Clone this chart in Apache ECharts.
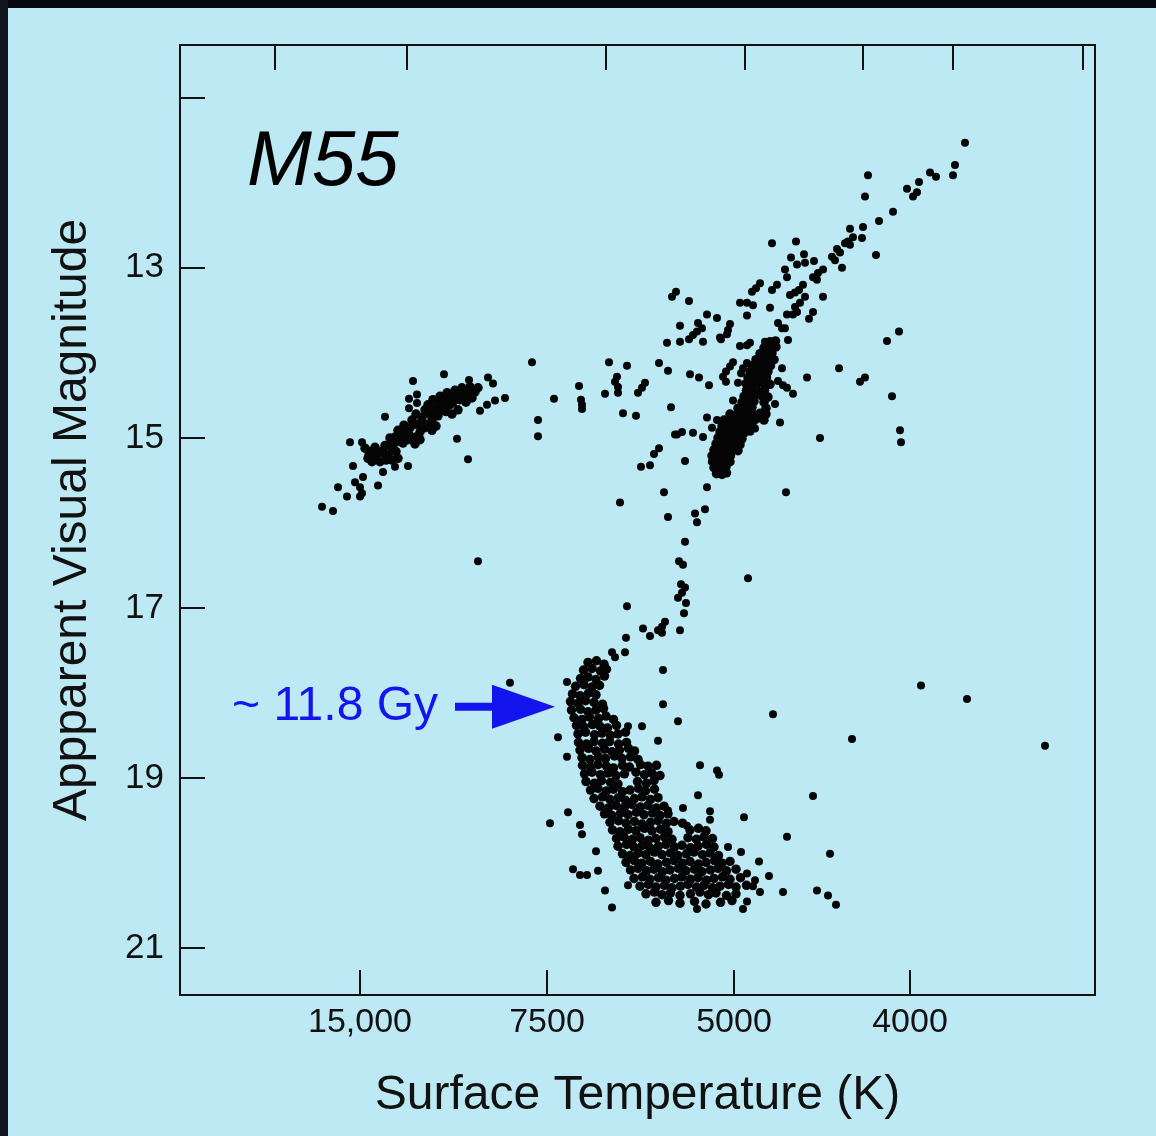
<!DOCTYPE html>
<html>
<head>
<meta charset="utf-8">
<script src="https://cdn.jsdelivr.net/npm/echarts@6/dist/echarts.min.js"></script>
<style>
html,body{margin:0;padding:0;background:#070a12;}
#chart{width:1156px;height:1136px;}
</style>
</head>
<body>
<div id="chart"></div>
<script>
// ---------- DATA (x = colour-index position on the temperature scale, y = apparent visual magnitude) ----------
const tempTickValues = [-0.1, 0.274, 0.648, 1.0];
const tempTickLabels = ['15,000', '7500', '5000', '4000'];
const topTickValues = [-0.27, -0.006, 0.392, 0.67, 0.906, 1.086, 1.346];
const magTickValues = [11, 13, 15, 17, 19, 21];
const magLabelValues = [13, 15, 17, 19, 21];

// horizontal branch, scattered members
const hbStars = [[0.068,14.25],[0.006,14.33],[0.118,14.32],[0.156,14.29],[0.166,14.36],[0.014,14.49],[-0.002,14.54],[0.014,14.59],[-0.002,14.65],[0.190,14.53],[0.170,14.56],[0.154,14.61],[0.140,14.68],[-0.050,14.75],[0.094,15.01],[0.116,15.25],[-0.120,15.05],[-0.096,15.05],[-0.114,15.33],[-0.094,15.46],[-0.054,15.40],[-0.030,15.34],[-0.004,15.33],[-0.110,15.52],[-0.100,15.58],[-0.096,15.65],[-0.100,15.69],[-0.144,15.58],[-0.126,15.69],[-0.064,15.56],[-0.176,15.81],[-0.154,15.86]];
// horizontal branch, dense core
const hbCore = [[-0.090,15.12],[-0.080,15.16],[-0.070,15.11],[-0.084,15.24],[-0.070,15.22],[-0.060,15.16],[-0.050,15.09],[-0.076,15.28],[-0.060,15.28],[-0.044,15.20],[-0.036,15.12],[-0.028,15.05],[-0.020,14.98],[-0.040,15.00],[-0.024,14.91],[-0.010,14.93],[-0.012,14.85],[0.000,14.88],[0.004,14.79],[0.016,14.84],[0.012,14.72],[0.024,14.76],[0.030,14.67],[0.040,14.72],[0.036,14.61],[0.050,14.65],[0.046,14.55],[0.060,14.60],[0.060,14.51],[0.072,14.55],[0.074,14.47],[0.084,14.52],[0.090,14.44],[0.100,14.48],[0.104,14.41],[0.116,14.46],[0.120,14.40],[0.130,14.46],[0.136,14.41],[0.124,14.53],[-0.028,15.16],[-0.024,15.24],[-0.048,15.26],[-0.004,15.02],[0.010,15.07],[0.020,15.02],[0.030,14.88],[0.044,14.79],[0.056,14.74],[0.072,14.69],[0.084,14.72],[0.096,14.67],[0.080,14.61],[0.066,14.67],[0.100,14.55],[0.112,14.58],[0.020,14.93],[0.036,14.84],[0.052,14.86],
[-0.082,15.20],[-0.066,15.19],[-0.052,15.18],[-0.040,15.08],[-0.030,14.99],[-0.016,14.96],[-0.002,14.96],[0.008,14.84],[0.022,14.83],[0.040,14.66],[0.054,14.70],[0.066,14.59],[0.086,14.58],[0.094,14.50],[0.110,14.50],[0.126,14.44],[0.012,14.99],[-0.014,15.06],[0.044,14.91],[-0.036,15.26]];
// stars between the horizontal branch and the giant branch
const gapStars = [[0.244,14.11],[0.288,14.54],[0.256,14.79],[0.256,14.98],[0.338,14.39],[0.342,14.55],[0.344,14.61],[0.344,14.66],[0.398,14.11],[0.434,14.15],[0.414,14.28],[0.410,14.34],[0.416,14.40],[0.416,14.47],[0.390,14.48],[0.470,14.35],[0.464,14.41],[0.456,14.47],[0.426,14.71],[0.452,14.74],[0.498,14.12],[0.516,14.21],[0.522,14.64],[0.534,14.96],[0.498,15.12],[0.488,15.19],[0.462,15.34],[0.480,15.32],[0.420,15.76],[0.136,16.45],[0.200,17.88]];
// upper giant branch and asymptotic giant branch
const upperGiants = [[1.110,11.53],[1.090,11.79],[1.086,11.91],[1.040,11.88],[1.052,11.93],[1.018,11.99],[1.014,12.11],[1.006,12.16],[0.994,12.07],[0.916,11.91],[0.910,12.16],[0.966,12.34],[0.938,12.45],[0.880,12.54],[0.906,12.52],[0.904,12.65],[0.886,12.64],[0.876,12.69],[0.870,12.71],[0.880,12.73],[0.854,12.78],[0.860,12.82],[0.844,12.87],[0.850,12.91],[0.932,12.85],[0.864,13.00],[0.826,13.02],[0.816,13.06],[0.806,13.11],[0.814,13.14],[0.724,12.71],[0.772,12.69],[0.762,12.88],[0.788,12.84],[0.790,12.94],[0.808,12.92],[0.774,12.96],[0.750,13.02],[0.754,13.11],[0.734,13.20],[0.724,13.26],[0.700,13.18],[0.692,13.24],[0.684,13.28],[0.786,13.20],[0.778,13.26],[0.770,13.29],[0.760,13.32],[0.826,13.34],[0.790,13.34],[0.780,13.41],[0.770,13.46],[0.774,13.52],[0.766,13.55],[0.720,13.47],[0.754,13.55],[0.806,13.52],[0.798,13.60],[0.660,13.41],[0.674,13.41],[0.686,13.44],[0.674,13.56],[0.532,13.28],[0.524,13.34],[0.558,13.39],[0.594,13.55],[0.614,13.59],[0.540,13.68],[0.576,13.65],[0.584,13.71],[0.574,13.75],[0.566,13.79],[0.558,13.84],[0.640,13.66],[0.636,13.73],[0.634,13.78],[0.736,13.65],[0.744,13.71],[0.750,13.71],[0.514,13.88],[0.540,13.87],[0.586,13.87],[0.622,13.84],[0.660,13.92],[0.674,13.91],[0.680,13.88],[0.710,13.87],[0.726,13.87],[0.714,13.93],[0.756,13.85],[0.978,13.75],[0.954,13.86]];
// scattered stars around the middle giant branch
const midGiants = [[0.620,13.82],[0.560,14.25],[0.578,14.29],[0.598,14.38],[0.646,14.11],[0.640,14.16],[0.632,14.22],[0.626,14.28],[0.632,14.34],[0.674,14.12],[0.666,14.18],[0.662,14.24],[0.656,14.35],[0.744,14.18],[0.736,14.33],[0.746,14.38],[0.754,14.41],[0.794,14.29],[0.766,14.48],[0.858,14.18],[0.900,14.34],[0.910,14.29],[0.964,14.51],[0.646,14.56],[0.730,14.60],[0.594,14.76],[0.614,14.79],[0.604,14.88],[0.740,14.82],[0.690,14.89],[0.530,14.96],[0.544,14.93],[0.566,14.94],[0.586,14.99],[0.820,15.00],[0.980,14.91],[0.982,15.05],[0.550,15.27],[0.594,15.58],[0.508,15.64],[0.752,15.64],[0.590,15.84],[0.570,15.89],[0.574,15.99],[0.516,15.93]];
// dense red giant branch
const rgbCore = [[0.720,13.87],[0.731,13.86],[0.708,13.94],[0.721,13.95],[0.732,13.93],[0.700,14.01],[0.713,14.02],[0.724,14.00],[0.692,14.08],[0.704,14.09],[0.717,14.07],[0.728,14.08],[0.684,14.15],[0.697,14.16],[0.708,14.14],[0.721,14.15],[0.680,14.22],[0.692,14.23],[0.705,14.21],[0.716,14.22],[0.676,14.29],[0.689,14.30],[0.700,14.28],[0.713,14.29],[0.672,14.36],[0.684,14.37],[0.697,14.35],[0.708,14.36],[0.720,14.37],[0.673,14.44],[0.684,14.43],[0.696,14.45],[0.709,14.44],[0.668,14.51],[0.681,14.52],[0.692,14.50],[0.705,14.51],[0.716,14.52],[0.664,14.58],[0.677,14.59],[0.688,14.57],[0.708,14.58],[0.656,14.65],[0.672,14.66],[0.684,14.64],[0.712,14.65],[0.640,14.72],[0.652,14.73],[0.665,14.71],[0.676,14.72],[0.689,14.73],[0.700,14.71],[0.712,14.72],[0.628,14.79],[0.641,14.80],[0.652,14.78],[0.665,14.79],[0.676,14.80],[0.692,14.78],[0.708,14.79],[0.624,14.86],[0.637,14.87],[0.648,14.85],[0.661,14.86],[0.672,14.87],[0.684,14.85],[0.620,14.93],[0.633,14.94],[0.644,14.92],[0.657,14.93],[0.668,14.94],[0.680,14.92],[0.616,15.00],[0.629,15.01],[0.640,14.99],[0.653,15.00],[0.664,15.01],[0.612,15.07],[0.625,15.08],[0.636,15.06],[0.649,15.07],[0.660,15.08],[0.608,15.14],[0.621,15.15],[0.632,15.13],[0.645,15.14],[0.656,15.15],[0.604,15.21],[0.617,15.22],[0.628,15.20],[0.641,15.21],[0.605,15.28],[0.616,15.29],[0.629,15.27],[0.640,15.28],[0.608,15.35],[0.621,15.36],[0.632,15.34],[0.613,15.42],[0.624,15.43],[0.633,15.41]];
// subgiant branch
const subgiants = [[0.550,16.22],[0.538,16.45],[0.546,16.49],[0.542,16.72],[0.550,16.76],[0.544,16.82],[0.536,16.88],[0.552,16.94],[0.548,17.06],[0.676,16.65],[0.434,16.98],[0.510,17.16],[0.504,17.22],[0.496,17.26],[0.504,17.29],[0.540,17.26],[0.466,17.24],[0.480,17.33],[0.432,17.35],[0.430,17.52],[0.506,17.73],[0.404,17.52],[0.410,17.58]];
// scattered stars around the turnoff and main sequence
const turnoffStars = [[0.506,18.13],[0.536,18.33],[0.436,18.39],[0.464,18.39],[0.496,18.56],[0.314,17.87],[0.296,18.52],[0.314,18.75],[0.316,19.40],[0.546,19.35],[0.280,19.53],[0.580,18.85],[0.614,18.91],[0.618,18.96],[0.576,19.20],[0.668,19.46],[0.754,19.69],[0.340,19.55],[0.344,19.66],[0.372,19.86],[0.326,20.07],[0.340,20.14],[0.354,20.14],[0.376,20.09],[0.390,20.32],[0.404,20.52],[0.436,20.26],[0.574,20.54],[0.662,19.87],[0.636,19.81],[0.698,19.98],[0.718,20.15],[0.700,20.34],[0.746,20.34],[0.600,19.39],[0.600,19.49],[0.554,19.56],[0.516,19.38]];
// field stars to the red side
const fieldStars = [[1.022,17.91],[1.114,18.07],[1.270,18.62],[0.726,18.25],[0.884,18.54],[0.806,19.21],[0.840,19.89],[0.674,20.12],[0.690,20.20],[0.686,20.27],[0.814,20.32],[0.836,20.38],[0.852,20.49],[0.674,20.45],[0.666,20.54]];
// dense turnoff and main sequence
const msCore = [
[0.356,17.64],[0.373,17.62],[0.388,17.66],
[0.347,17.73],[0.364,17.71],[0.381,17.74],[0.393,17.72],
[0.341,17.83],[0.356,17.81],[0.372,17.84],[0.389,17.80],
[0.331,17.92],[0.348,17.90],[0.364,17.93],[0.379,17.91],
[0.325,18.01],[0.340,18.03],[0.357,18.00],[0.372,18.02],
[0.321,18.10],[0.336,18.12],[0.351,18.09],[0.368,18.11],[0.385,18.13],
[0.323,18.20],[0.341,18.19],[0.356,18.22],[0.372,18.20],[0.387,18.18],
[0.328,18.29],[0.344,18.31],[0.359,18.28],[0.377,18.30],[0.392,18.27],[0.407,18.31],
[0.333,18.38],[0.348,18.40],[0.365,18.37],[0.380,18.39],[0.395,18.41],[0.413,18.38],
[0.336,18.48],[0.351,18.46],[0.369,18.49],[0.384,18.47],[0.401,18.50],[0.416,18.48],[0.431,18.46],
[0.337,18.58],[0.353,18.60],[0.368,18.57],[0.385,18.59],[0.399,18.57],[0.417,18.60],[0.433,18.58],
[0.340,18.67],[0.357,18.65],[0.372,18.68],[0.389,18.66],[0.404,18.69],[0.419,18.67],[0.437,18.65],[0.449,18.68],
[0.344,18.76],[0.360,18.78],[0.377,18.75],[0.391,18.77],[0.409,18.74],[0.424,18.77],[0.441,18.75],[0.456,18.78],
[0.345,18.85],[0.361,18.87],[0.376,18.84],[0.393,18.86],[0.407,18.88],[0.425,18.85],[0.439,18.87],[0.461,18.84],[0.476,18.86],[0.493,18.85],
[0.349,18.95],[0.364,18.93],[0.381,18.96],[0.396,18.94],[0.412,18.97],[0.429,18.95],[0.452,18.93],[0.469,18.96],[0.484,18.94],[0.500,18.97],
[0.352,19.04],[0.369,19.06],[0.383,19.03],[0.401,19.05],[0.416,19.07],[0.455,19.04],[0.473,19.06],[0.488,19.03],
[0.361,19.14],[0.376,19.12],[0.393,19.15],[0.407,19.13],[0.425,19.16],[0.440,19.14],[0.457,19.12],[0.471,19.15],[0.489,19.13],
[0.368,19.24],[0.385,19.22],[0.400,19.25],[0.417,19.23],[0.431,19.26],[0.449,19.24],[0.464,19.22],[0.481,19.25],[0.496,19.23],
[0.380,19.33],[0.397,19.35],[0.412,19.32],[0.429,19.34],[0.444,19.31],[0.461,19.34],[0.476,19.32],[0.493,19.35],[0.508,19.33],
[0.389,19.42],[0.404,19.44],[0.421,19.41],[0.436,19.43],[0.453,19.40],[0.468,19.43],[0.485,19.41],[0.500,19.44],[0.516,19.42],
[0.400,19.52],[0.417,19.50],[0.432,19.53],[0.449,19.51],[0.464,19.54],[0.481,19.52],[0.496,19.50],[0.513,19.53],[0.528,19.51],[0.545,19.53],
[0.405,19.61],[0.420,19.63],[0.437,19.60],[0.452,19.62],[0.469,19.59],[0.484,19.62],[0.501,19.60],[0.516,19.63],[0.560,19.61],[0.577,19.59],[0.592,19.62],
[0.413,19.71],[0.428,19.69],[0.445,19.72],[0.460,19.70],[0.477,19.73],[0.492,19.71],[0.509,19.69],[0.524,19.72],[0.556,19.70],[0.573,19.72],[0.588,19.69],[0.605,19.71],
[0.416,19.80],[0.433,19.78],[0.448,19.81],[0.465,19.79],[0.480,19.82],[0.497,19.80],[0.512,19.78],[0.529,19.81],[0.544,19.79],[0.561,19.82],[0.576,19.80],[0.593,19.78],[0.608,19.81],
[0.425,19.89],[0.440,19.91],[0.457,19.88],[0.472,19.90],[0.489,19.87],[0.504,19.90],[0.521,19.88],[0.536,19.91],[0.553,19.89],[0.568,19.87],[0.585,19.90],[0.600,19.88],[0.617,19.91],
[0.432,19.99],[0.449,19.97],[0.464,20.00],[0.481,19.98],[0.496,20.01],[0.513,19.99],[0.528,19.97],[0.545,20.00],[0.560,19.98],[0.577,20.01],[0.592,19.99],[0.609,19.97],[0.624,20.00],[0.640,19.98],
[0.441,20.08],[0.456,20.06],[0.473,20.09],[0.488,20.07],[0.505,20.10],[0.520,20.08],[0.537,20.06],[0.552,20.09],[0.569,20.07],[0.584,20.10],[0.601,20.08],[0.616,20.06],[0.633,20.09],[0.652,20.07],
[0.448,20.18],[0.465,20.16],[0.480,20.19],[0.497,20.17],[0.512,20.20],[0.529,20.18],[0.544,20.16],[0.561,20.19],[0.576,20.17],[0.593,20.20],[0.608,20.18],[0.625,20.16],[0.640,20.19],[0.661,20.17],
[0.460,20.27],[0.477,20.25],[0.492,20.28],[0.509,20.26],[0.524,20.29],[0.541,20.27],[0.556,20.25],[0.573,20.28],[0.588,20.26],[0.605,20.29],[0.620,20.27],[0.637,20.25],[0.652,20.28],[0.673,20.26],
[0.472,20.36],[0.489,20.34],[0.504,20.37],[0.521,20.35],[0.540,20.38],[0.561,20.36],[0.580,20.34],[0.597,20.37],[0.612,20.35],[0.633,20.38],[0.652,20.36],
[0.492,20.46],[0.517,20.44],[0.540,20.47],[0.569,20.45],[0.592,20.48],[0.621,20.46],[0.644,20.44]
];
const clusterName = 'M55';
const ageNote = '~ 11.8 Gy';
const agePoint = [0.29, 18.16];

// ---------- CHART ----------
const FONT = "'Liberation Sans', Arial, Helvetica, sans-serif";
const INK = '#111111';
const chart = echarts.init(document.getElementById('chart'), null, {renderer: 'canvas'});

function stars(name, data, size) {
  return {name: name, type: 'scatter', data: data, symbol: 'circle', symbolSize: size,
          itemStyle: {color: '#050505', opacity: 1}, silent: true, animation: false};
}

const option = {
  animation: false,
  backgroundColor: '#bde9f4',
  grid: {left: 180, right: 61, top: 45, bottom: 141, show: true, borderColor: INK, borderWidth: 2,
         backgroundColor: 'rgba(0,0,0,0)', containLabel: false},
  xAxis: [{
    type: 'value', position: 'bottom', min: -0.46, max: 1.37,
    axisLine: {show: false, onZero: false}, splitLine: {show: false},
    axisTick: {show: true, inside: true, length: 25, customValues: tempTickValues, lineStyle: {color: INK, width: 2}},
    axisLabel: {show: true, customValues: tempTickValues, margin: 11, fontSize: 34, color: INK, fontFamily: FONT,
      formatter: function (v) { const i = tempTickValues.indexOf(v); return i >= 0 ? tempTickLabels[i] : ''; }},
    name: 'Surface Temperature (K)', nameLocation: 'middle', nameGap: 77,
    nameTextStyle: {fontSize: 48, color: INK, fontFamily: FONT}
  }, {
    type: 'value', position: 'top', min: -0.46, max: 1.37,
    axisLine: {show: false, onZero: false}, splitLine: {show: false},
    axisTick: {show: true, inside: true, length: 25, customValues: topTickValues, lineStyle: {color: INK, width: 2}},
    axisLabel: {show: false}
  }],
  yAxis: [{
    type: 'value', inverse: true, min: 10.38, max: 21.55, position: 'left',
    axisLine: {show: false, onZero: false}, splitLine: {show: false},
    axisTick: {show: true, inside: true, length: 25, customValues: magTickValues, lineStyle: {color: INK, width: 2}},
    axisLabel: {show: true, customValues: magLabelValues, margin: 16, fontSize: 35, color: INK, fontFamily: FONT},
    name: 'Appparent Visual Magnitude', nameLocation: 'middle', nameGap: 83,
    nameTextStyle: {fontSize: 48, color: INK, fontFamily: FONT}
  }],
  series: [
    stars('hbStars', hbStars, 8), stars('hbCore', hbCore, 9.5), stars('gapStars', gapStars, 8),
    stars('upperGiants', upperGiants, 8), stars('midGiants', midGiants, 8), stars('rgbCore', rgbCore, 9.5),
    stars('subgiants', subgiants, 8), stars('turnoffStars', turnoffStars, 8), stars('fieldStars', fieldStars, 8),
    stars('msCore', msCore, 9.5)
  ]
};
chart.setOption(option);

const tip = chart.convertToPixel({gridIndex: 0}, agePoint);
const BLUE = '#1414ee';
chart.setOption({
  graphic: [
    {type: 'rect', left: 0, top: 0, shape: {width: 1156, height: 8}, style: {fill: '#05070d'}, silent: true},
    {type: 'rect', left: 0, top: 0, shape: {width: 8, height: 1136}, style: {fill: '#10151f'}, silent: true},
    {type: 'text', style: {x: 247, y: 163, text: clusterName, font: 'italic 78px ' + FONT, fill: '#000',
      textAlign: 'left', textVerticalAlign: 'middle'}, silent: true},
    {type: 'text', style: {x: tip[0] - 117, y: tip[1], text: ageNote, font: '48px ' + FONT, fill: BLUE,
      textAlign: 'right', textVerticalAlign: 'middle'}, silent: true},
    {type: 'rect', shape: {x: tip[0] - 100, y: tip[1] - 4, width: 42, height: 8}, style: {fill: BLUE}, silent: true},
    {type: 'polygon', shape: {points: [[tip[0] - 63, tip[1] - 22], [tip[0], tip[1]], [tip[0] - 63, tip[1] + 22]]},
      style: {fill: BLUE}, silent: true}
  ]
});
</script>
</body>
</html>
